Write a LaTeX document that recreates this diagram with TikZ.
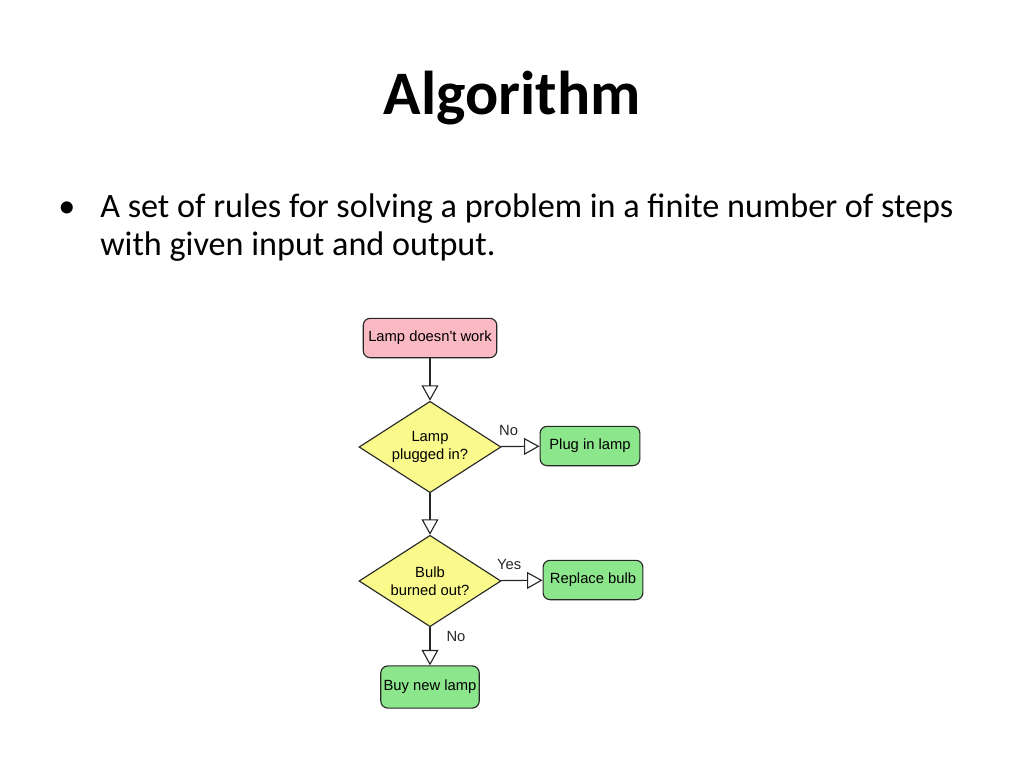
\documentclass[tikz,border=0pt]{standalone}
\usepackage{fontspec}
\setmainfont{Carlito}
\newfontfamily\chartfont{Liberation Sans}
\usetikzlibrary{shapes.geometric, arrows.meta}

\definecolor{startpink}{RGB}{250,185,195}
\definecolor{askyellow}{RGB}{250,250,140}
\definecolor{dogreen}{RGB}{140,230,140}

\begin{document}
\begin{tikzpicture}[x=0.025cm, y=-0.025cm]
		\tikzstyle{box} = [rectangle, rounded corners = 5pt, draw=black!85, line width = 0.8pt, font=\chartfont\fontsize{10.5}{12.5}\selectfont, align=center, minimum height = 28pt, inner sep = 2pt]
		\tikzstyle{ask} = [diamond, aspect = 1.55, draw=black!85, line width = 0.8pt, fill=askyellow, font=\chartfont\fontsize{10.5}{12.5}\selectfont, align=center, minimum width = 101pt, minimum height = 65pt, inner sep = 0pt]
		\tikzstyle{flow} = [-{Triangle[open, length=11pt, width=12pt]}, line width = 0.8pt, black!85]
		\tikzstyle{answer} = [font=\chartfont\fontsize{10.5}{12.5}\selectfont]
		\tikzstyle{bodytext} = [anchor=base west, inner sep = 0pt, font=\fontsize{24.3}{29}\selectfont]
		\useasboundingbox (0,0) rectangle (1024,768);
		
		\node[font=\bfseries\fontsize{44}{50}\selectfont] at (512, 98) (title) {Algorithm};
		\node[bodytext] at (100, 217) (rule1) {A set of rules for solving a problem in a finite number of steps};
		\node[bodytext] at (100, 255) (rule2) {with given input and output.};
		\node[bodytext] at (58, 217) (dot) {\textbullet};
		
		\node[box, fill=startpink, minimum width = 95pt] at (430, 338) (lamp) {Lamp doesn't work};
		\node[ask] at (430, 447) (plugged) {Lamp\\plugged in?};
		\node[box, fill=dogreen, minimum width = 71pt] at (590, 446) (plug) {Plug in lamp};
		\node[ask] at (430, 581) (bulb) {Bulb\\burned out?};
		\node[box, fill=dogreen, minimum width = 71pt] at (593, 580) (replace) {Replace bulb};
		\node[box, fill=dogreen, minimum width = 70pt, minimum height = 30pt] at (430, 687) (buy) {Buy new lamp};
		
		\draw[flow] (lamp) -- (plugged);
		\draw[flow] (plugged) -- (plug) node[answer, pos = 0.2, above, yshift = 4pt] {No};
		\draw[flow] (plugged) -- (bulb);
		\draw[flow] (bulb) -- (replace) node[answer, pos = 0.2, above, yshift = 4pt] {Yes};
		\draw[flow] (bulb) -- (buy) node[answer, pos = 0.25, right, xshift = 8pt] {No};
		\end{tikzpicture}
\end{document}
